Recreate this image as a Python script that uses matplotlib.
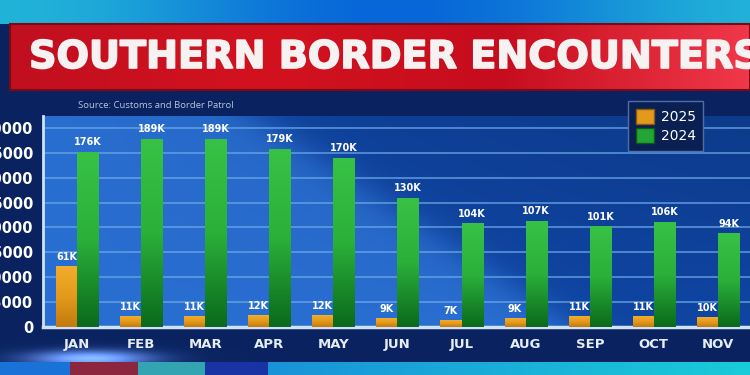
import numpy as np
import matplotlib.pyplot as plt
import matplotlib.patheffects as pe
from matplotlib.colors import LinearSegmentedColormap
from matplotlib.patches import Rectangle, Patch

months = ["JAN", "FEB", "MAR", "APR", "MAY", "JUN", "JUL", "AUG", "SEP", "OCT", "NOV"]
enc_2025 = [61, 11, 11, 12, 12, 9, 7, 9, 11, 11, 10]          # thousands
enc_2024 = [176, 189, 189, 179, 170, 130, 104, 107, 101, 106, 94]
yticks = [0, 25000, 50000, 75000, 100000, 125000, 150000, 175000, 200000]

W, H = 750, 375
fig = plt.figure(figsize=(7.5, 3.75), dpi=100)

# ---- background (TV graphic) ----
bg = fig.add_axes([0, 0, 1, 1])
yy, xx = np.mgrid[0:H, 0:W]
img = np.zeros((H, W, 3))
navy = np.array([0.04, 0.14, 0.38])
img[:] = navy
# top cyan band
t = xx / W
top = np.stack([0.08 + 0.05 * np.cos(t * 6), 0.55 + 0.15 * np.cos(t * 6), 0.85 + 0.0 * t], -1)
img[yy < 24] = top[yy < 24]
# glow below chart
glow = np.exp(-((yy - 358) / 8.0) ** 2) * np.exp(-((xx - 90) / 60.0) ** 2)
img += glow[..., None] * np.array([0.5, 0.6, 0.8])
# bottom strip
strip = yy >= 362
img[strip] = [0.1, 0.45, 0.85]
img[strip & (xx >= 70) & (xx < 138)] = [0.55, 0.15, 0.25]
img[strip & (xx >= 138) & (xx < 205)] = [0.2, 0.65, 0.7]
img[strip & (xx >= 205) & (xx < 268)] = [0.1, 0.2, 0.65]
right = strip & (xx >= 268)
img[right] = np.stack([0.1 + 0.0 * t, 0.45 + 0.35 * t, 0.85 + 0.0 * t], -1)[right]
bg.imshow(np.clip(img, 0, 1), extent=[0, W, H, 0], aspect="auto")
bg.set_xlim(0, W)
bg.set_ylim(H, 0)
bg.axis("off")

# red banner
banner = np.linspace(0, 1, 200)[None, :]
red_cmap = LinearSegmentedColormap.from_list("red", ["#c10f1f", "#d3121f", "#c60d1d", "#f0384a"])
bg.imshow(banner, extent=[10, W, 90, 24], cmap=red_cmap, aspect="auto", zorder=2)
bg.add_patch(Rectangle((10, 24), W - 10, 66, fill=False, ec="#7a0a14", lw=1.5, zorder=3))
bg.text(29, 58, "SOUTHERN BORDER ENCOUNTERS", color="#f6f2f2", fontsize=27.5,
        fontweight="bold", family="DejaVu Sans", va="center", ha="left", zorder=4,
        path_effects=[pe.withStroke(linewidth=1.2, foreground="#f6f2f2")])

# source line
bg.text(78, 106, "Source: Customs and Border Patrol", color="#b8c4dc", fontsize=6.8,
        family="Open Sans", va="center", ha="left", zorder=4)

# ---- chart ----
ax = fig.add_axes([43 / W, 48 / H, 707 / W, 211 / H])

# plot area gradient
gy, gx = np.mgrid[0:1:200j, 0:1:300j]
diag = 0.3 + 0.45 * (1 - gy)
light = 1 / (1 + np.exp((gx - diag) * 40))
c_light = np.array([0.16, 0.43, 0.82])
c_dark = np.array([0.06, 0.27, 0.64])
area = c_dark + (c_light - c_dark) * light[..., None]
area = area * (1 - 0.15 * gy[..., None] * gx[..., None])
ax.imshow(area, extent=[-0.53, 10.5, 212000, 0], aspect="auto", zorder=0)

x = np.arange(len(months))
bw = 0.33
vals25 = np.array(enc_2025) * 1000
vals24 = np.array(enc_2024) * 1000
b25 = ax.bar(x - bw / 2, vals25, bw, color="#e39a1c", zorder=3)
b24 = ax.bar(x + bw / 2, vals24, bw, color="#22a535", zorder=3)

grad = np.linspace(0, 1, 100)[:, None]
cm25 = LinearSegmentedColormap.from_list("o", ["#f2ad2c", "#e39a1c", "#c47a0e"])
cm24 = LinearSegmentedColormap.from_list("g", ["#38c245", "#2bb03a", "#0b6a1c"])
for bars, cm in ((b25, cm25), (b24, cm24)):
    for b in bars:
        x0, h, w = b.get_x(), b.get_height(), b.get_width()
        im = ax.imshow(grad, extent=[x0, x0 + w, 0, h], cmap=cm, aspect="auto", zorder=3.5,
                       origin="upper")
        im.set_clip_path(b)

for bars, vals in ((b25, enc_2025), (b24, enc_2024)):
    for b, v in zip(bars, vals):
        ax.text(b.get_x() + b.get_width() / 2, b.get_height() + 4500, f"{v}K",
                color="white", fontsize=7, fontweight="bold", family="DejaVu Sans",
                ha="center", va="bottom", zorder=5)

ax.set_xlim(-0.53, 10.5)
ax.set_ylim(0, 212000)
ax.set_yticks(yticks)
ax.set_yticklabels([str(v) for v in yticks], color="white", fontsize=10.5,
                   fontweight="bold", family="DejaVu Sans")
ax.set_xticks(x)
ax.set_xticklabels(months, color="#e4ecf6", fontsize=9.5, fontweight="bold", family="DejaVu Sans")
ax.tick_params(length=0)
ax.tick_params(axis="y", pad=7)
ax.tick_params(axis="x", pad=8)
ax.grid(axis="y", color="#6aa8e8", lw=1.2, alpha=0.8, zorder=1)
for s in ("top", "right"):
    ax.spines[s].set_visible(False)
ax.spines["left"].set_color("#cfe2f7")
ax.spines["left"].set_linewidth(2)
ax.spines["bottom"].set_color("#cfe2f7")
ax.spines["bottom"].set_linewidth(2.5)

handles = [Patch(facecolor="#e39a1c", edgecolor="#8a5a10", label="2025"),
           Patch(facecolor="#22a535", edgecolor="#0c5a18", label="2024")]
leg = ax.legend(handles=handles, loc="upper left", bbox_to_anchor=(628 / W, 1 - 101 / H),
                bbox_transform=fig.transFigure, frameon=True, fancybox=False,
                handlelength=1.3, handleheight=1.3, handletextpad=0.5, labelspacing=0.3,
                borderpad=0.55, borderaxespad=0,
                prop={"family": "DejaVu Sans", "size": 10})
leg.get_frame().set_facecolor("#0a1f52")
leg.get_frame().set_edgecolor("#4f6fa8")
leg.get_frame().set_alpha(1)
leg.set_zorder(6)
for txt in leg.get_texts():
    txt.set_color("white")

plt.savefig("out.png", dpi=100)
